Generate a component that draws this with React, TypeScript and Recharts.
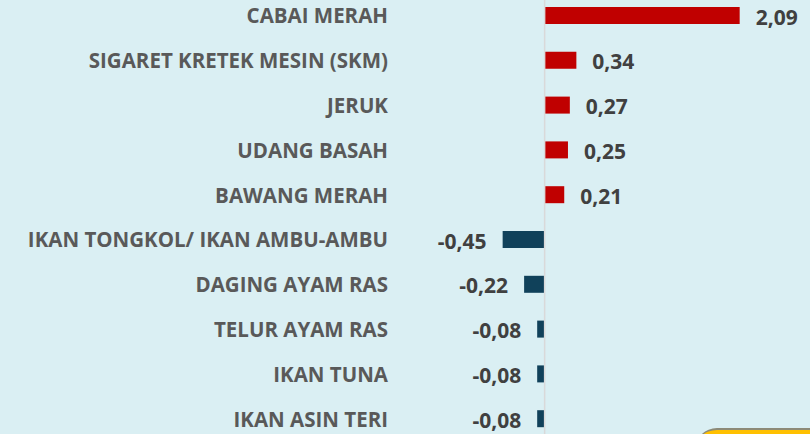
import React from 'react';
import { BarChart, Bar, XAxis, YAxis, Cell, LabelList, ReferenceLine } from 'recharts';

const commodities = [
  'CABAI MERAH',
  'SIGARET KRETEK MESIN (SKM)',
  'JERUK',
  'UDANG BASAH',
  'BAWANG MERAH',
  'IKAN TONGKOL/ IKAN AMBU-AMBU',
  'DAGING AYAM RAS',
  'TELUR AYAM RAS',
  'IKAN TUNA',
  'IKAN ASIN TERI',
];
const contributions = [2.09, 0.34, 0.27, 0.25, 0.21, -0.45, -0.22, -0.08, -0.08, -0.08];

const data = commodities.map((name, i) => ({ name, v: contributions[i] }));

const BG = '#daeff3';
const POS = '#c00000';
const NEG = '#10415a';
const FONT = '"Open Sans", sans-serif';

const fmt = (v: number) => v.toFixed(2).replace('.', ',');

const CatTick = (p: any) => (
  <text x={p.x} y={p.y} textAnchor="end" dominantBaseline="central"
    fill="#595959" fontSize={20.5} fontWeight={700} fontFamily={FONT}>
    {p.payload.value}
  </text>
);

const ValueLabel = (p: any) => {
  const { x, y, width, height, value } = p;
  const neg = value < 0;
  const end = x + width;
  const tx = neg ? Math.min(x, end) - 16 : Math.max(x, end) + 16;
  return (
    <text x={tx} y={y + height / 2 + 1} textAnchor={neg ? 'end' : 'start'} dominantBaseline="central"
      fill="#404040" fontSize={21} fontWeight={700} fontFamily={FONT}>
      {fmt(value)}
    </text>
  );
};

export default function App() {
  return (
    <div style={{ position: 'fixed', left: 0, top: 0, width: 810, height: 434, overflow: 'hidden', background: BG }}>
      <div style={{ position: 'absolute', left: 0, top: -7 }}>
        <BarChart width={805} height={448} data={data} layout="vertical"
          margin={{ top: 0, right: 0, bottom: 0, left: 0 }} barSize={17}>
          <XAxis type="number" hide domain={[-1.55, 2.79]} allowDataOverflow />
          <YAxis type="category" dataKey="name" width={400} axisLine={false} tickLine={false}
            tickSize={0} tickMargin={12} tick={<CatTick />} interval={0} />
          <ReferenceLine x={0} stroke="#d9d9d9" strokeWidth={1.5} />
          <Bar dataKey="v" isAnimationActive={false}>
            {data.map((d, i) => (
              <Cell key={i} fill={d.v < 0 ? NEG : POS} />
            ))}
            <LabelList dataKey="v" content={<ValueLabel />} />
          </Bar>
        </BarChart>
      </div>
      <div style={{
        position: 'absolute', left: 695, top: 428, width: 200, height: 40,
        background: '#ffc000', borderTop: '2px solid #8c8a78', borderTopLeftRadius: 22,
      }} />
    </div>
  );
}
